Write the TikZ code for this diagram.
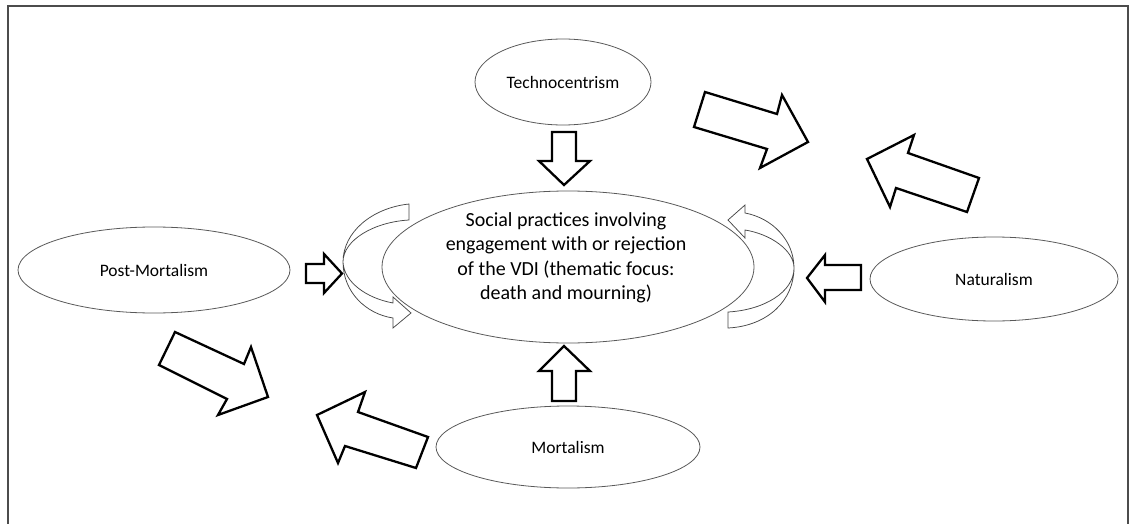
\documentclass[tikz,border=0pt]{standalone}
\usepackage{fontspec}
\setmainfont{Carlito}
\usetikzlibrary{shapes.geometric}
\begin{document}
\begin{tikzpicture}[x=1pt,y=-1pt,
  ell/.style={draw=black!65, line width=0.8pt, ellipse, inner sep=0pt},
  lbl/.style={font=\fontsize{17.5}{21}\selectfont},
  blockarrow/.style={draw=black, line width=2.3pt, fill=white, line join=miter},
  curvearrow/.style={draw=black!72, line width=0.75pt},
  frame/.style={draw=black!70, line width=1.6pt}]
\useasboundingbox (0,0) rectangle (1131,524);
% frame (open at the bottom)
\coordinate (fbl) at (8,524);
\coordinate (ftl) at (8,6);
\coordinate (ftr) at (1128,6);
\coordinate (fbr) at (1128,524);
\draw[frame] (fbl) -- (ftl) -- (ftr) -- (fbr);

% ellipses
\node[ell, minimum width=372, minimum height=152] (center) at (568,267) {};
\node[align=center, font=\fontsize{20}{24.5}\selectfont] (ctext) at (566,258)
  {Social practices involving\\engagement with or rejection\\of the VDI (thematic focus:\\death and mourning)};
\node[ell, lbl, minimum width=176, minimum height=86] (techno) at (563,82) {Technocentrism};
\node[ell, lbl, minimum width=272, minimum height=86] (post) at (154,270) {Post-Mortalism};
\node[ell, lbl, minimum width=248, minimum height=84] (natur) at (994,279) {Naturalism};
\node[ell, lbl, minimum width=264, minimum height=82] (mortal) at (568,447) {Mortalism};

% straight block arrows
\draw[blockarrow] (552,132) -- (576,132) -- (576,161) -- (590,161) -- (564,185) -- (539,161) -- (552,161) -- cycle;
\draw[blockarrow] (564,346) -- (590,371) -- (576,371) -- (576,401) -- (552,401) -- (552,371) -- (539,371) -- cycle;
\draw[blockarrow] (306,264) -- (324,264) -- (324,254) -- (342,273.5) -- (324,293) -- (324,283) -- (306,283) -- cycle;
\draw[blockarrow] (861,265) -- (825,265) -- (825,255) -- (807,278) -- (825,302) -- (825,290) -- (861,290) -- cycle;

% diagonal block arrows
\draw[blockarrow] (705,92) -- (777,114) -- (782,95) -- (808,142) -- (760,168) -- (767,149) -- (694,127) -- cycle;
\draw[blockarrow] (979,178) -- (908,153) -- (914,135) -- (867,159) -- (890,207) -- (896,188) -- (967,212) -- cycle;
\draw[blockarrow] (175,332) -- (244,364) -- (251,347) -- (268,397) -- (218,415) -- (227,399) -- (159,365) -- cycle;
\draw[blockarrow] (428,437) -- (358,412) -- (365,392) -- (317,415) -- (338,463) -- (345,446) -- (416,468) -- cycle;

% curved arrows
\draw[curvearrow] (409,204) .. controls (372,208) and (343,232) .. (343,262)
  .. controls (343,292) and (366,314) .. (393,318)
  -- (393,328) -- (411,313) -- (393,297) -- (393,303)
  .. controls (366,298) and (344,282) .. (343,262)
  .. controls (343,240) and (374,222) .. (409,220) -- cycle;
\draw[curvearrow] (728,328) .. controls (768,326) and (794,300) .. (794,268)
  .. controls (794,240) and (772,218) .. (745,213)
  -- (745,205) -- (728,220) -- (745,238) -- (745,230)
  .. controls (770,234) and (794,250) .. (794,268)
  .. controls (794,292) and (764,310) .. (728,312) -- cycle;
\end{tikzpicture}
\end{document}
